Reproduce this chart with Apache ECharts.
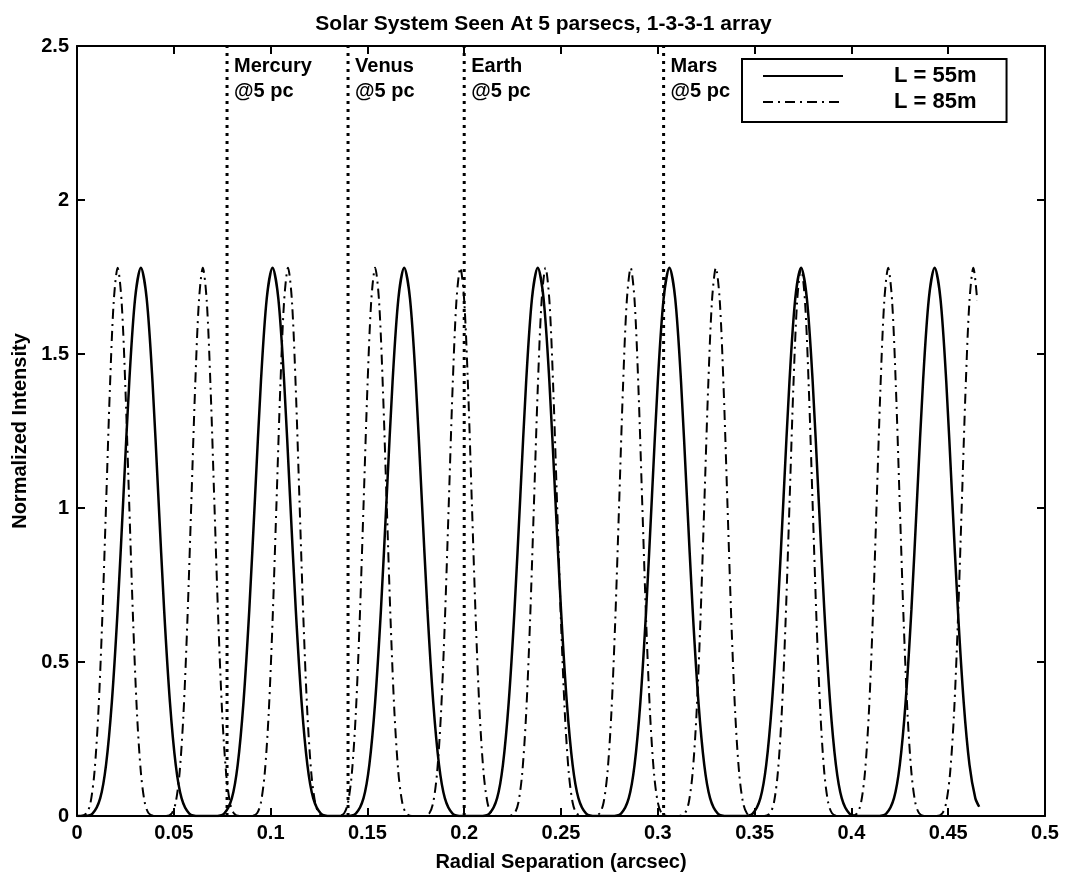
<!DOCTYPE html>
<html><head><meta charset="utf-8">
<script src="https://cdn.jsdelivr.net/npm/echarts@6/dist/echarts.min.js"></script>
<style>html,body{margin:0;padding:0;background:#fff}#c{width:1087px;height:879px}</style>
</head><body><div id="c"></div>
<script>
// ---- text ----
const titleText = 'Solar System Seen At 5 parsecs, 1-3-3-1 array';
const xName = 'Radial Separation (arcsec)';
const yName = 'Normalized Intensity';
const seriesNames = ['L = 55m', 'L = 85m'];

// ---- axis ranges / ticks ----
const xMin = 0, xMax = 0.5, xStep = 0.05;
const yMin = 0, yMax = 2.5, yStep = 0.5;

// ---- planet markers (separation in arcsec seen at 5 pc) ----
const planetNames = ['Mercury', 'Venus', 'Earth', 'Mars'];
const planetSuffix = '@5 pc';
const planetSep = [0.0775, 0.140, 0.200, 0.303];

// ---- L = 55m (solid) [separation, intensity] ----
const l55 = [
  [0,0],[0.003,0],[0.008,0.008],[0.012,0.058],[0.015,0.166],[0.018,0.37],[0.021,0.67],[0.024,1.04],[0.027,1.41],[0.030,1.68],[0.033,1.78],
  [0.036,1.68],[0.039,1.41],[0.042,1.04],[0.045,0.67],[0.048,0.37],[0.051,0.166],[0.054,0.058],[0.058,0.008],[0.063,0],
  [0.071,0],[0.076,0.008],[0.080,0.058],[0.083,0.166],[0.086,0.37],[0.089,0.67],[0.092,1.04],[0.095,1.41],[0.098,1.68],[0.101,1.78],
  [0.104,1.68],[0.107,1.41],[0.110,1.04],[0.113,0.67],[0.116,0.37],[0.119,0.166],[0.122,0.058],[0.126,0.008],[0.131,0],
  [0.139,0],[0.144,0.008],[0.148,0.058],[0.151,0.166],[0.154,0.37],[0.157,0.67],[0.160,1.04],[0.163,1.41],[0.166,1.68],[0.169,1.78],
  [0.172,1.68],[0.175,1.41],[0.178,1.04],[0.181,0.67],[0.184,0.37],[0.187,0.166],[0.190,0.058],[0.194,0.008],[0.199,0],
  [0.208,0],[0.213,0.008],[0.217,0.058],[0.220,0.166],[0.223,0.37],[0.226,0.67],[0.229,1.04],[0.232,1.41],[0.235,1.68],[0.238,1.78],
  [0.241,1.68],[0.244,1.41],[0.247,1.04],[0.250,0.67],[0.253,0.37],[0.256,0.166],[0.259,0.058],[0.263,0.008],[0.268,0],
  [0.276,0],[0.281,0.008],[0.285,0.058],[0.288,0.166],[0.291,0.37],[0.294,0.67],[0.297,1.04],[0.300,1.41],[0.303,1.68],[0.306,1.78],
  [0.309,1.68],[0.312,1.41],[0.315,1.04],[0.318,0.67],[0.321,0.37],[0.324,0.166],[0.327,0.058],[0.331,0.008],[0.336,0],
  [0.344,0],[0.349,0.008],[0.353,0.058],[0.356,0.166],[0.359,0.37],[0.362,0.67],[0.365,1.04],[0.368,1.41],[0.371,1.68],[0.374,1.78],
  [0.377,1.68],[0.380,1.41],[0.383,1.04],[0.386,0.67],[0.389,0.37],[0.392,0.166],[0.395,0.058],[0.399,0.008],[0.404,0],
  [0.413,0],[0.418,0.008],[0.422,0.058],[0.425,0.166],[0.428,0.37],[0.431,0.67],[0.434,1.04],[0.437,1.41],[0.440,1.68],[0.443,1.78],
  [0.446,1.68],[0.449,1.41],[0.452,1.04],[0.455,0.67],[0.458,0.37],[0.461,0.166],[0.464,0.058],[0.466,0.03]
];

// ---- L = 85m (dash-dot) [separation, intensity] ----
const l85 = [
  [0,0],[0.002,0],[0.005,0.009],[0.007,0.044],[0.009,0.141],[0.011,0.332],[0.013,0.631],[0.015,1.008],[0.017,1.389],[0.019,1.674],[0.021,1.78],
  [0.023,1.674],[0.025,1.389],[0.027,1.008],[0.029,0.631],[0.031,0.332],[0.033,0.141],[0.035,0.044],[0.037,0.009],[0.040,0],
  [0.046,0],[0.049,0.009],[0.051,0.044],[0.053,0.141],[0.055,0.332],[0.057,0.631],[0.059,1.008],[0.061,1.389],[0.063,1.674],[0.065,1.78],
  [0.067,1.674],[0.069,1.389],[0.071,1.008],[0.073,0.631],[0.075,0.332],[0.077,0.141],[0.079,0.044],[0.081,0.009],[0.084,0],
  [0.090,0],[0.093,0.009],[0.095,0.044],[0.097,0.141],[0.099,0.332],[0.101,0.631],[0.103,1.008],[0.105,1.389],[0.107,1.674],[0.109,1.78],
  [0.111,1.674],[0.113,1.389],[0.115,1.008],[0.117,0.631],[0.119,0.332],[0.121,0.141],[0.123,0.044],[0.125,0.009],[0.128,0],
  [0.135,0],[0.138,0.009],[0.140,0.044],[0.142,0.141],[0.144,0.332],[0.146,0.631],[0.148,1.008],[0.150,1.389],[0.152,1.674],[0.154,1.78],
  [0.156,1.674],[0.158,1.389],[0.160,1.008],[0.162,0.631],[0.164,0.332],[0.166,0.141],[0.168,0.044],[0.170,0.009],[0.173,0],
  [0.179,0],[0.182,0.009],[0.184,0.044],[0.186,0.141],[0.188,0.332],[0.190,0.631],[0.192,1.008],[0.194,1.389],[0.196,1.674],[0.198,1.78],
  [0.200,1.674],[0.202,1.389],[0.204,1.008],[0.206,0.631],[0.208,0.332],[0.210,0.141],[0.212,0.044],[0.214,0.009],[0.217,0],
  [0.223,0],[0.226,0.009],[0.228,0.044],[0.230,0.141],[0.232,0.332],[0.234,0.631],[0.236,1.008],[0.238,1.389],[0.240,1.674],[0.242,1.78],
  [0.244,1.674],[0.246,1.389],[0.248,1.008],[0.250,0.631],[0.252,0.332],[0.254,0.141],[0.256,0.044],[0.258,0.009],[0.261,0],
  [0.267,0],[0.270,0.009],[0.272,0.044],[0.274,0.141],[0.276,0.332],[0.278,0.631],[0.280,1.008],[0.282,1.389],[0.284,1.674],[0.286,1.78],
  [0.288,1.674],[0.290,1.389],[0.292,1.008],[0.294,0.631],[0.296,0.332],[0.298,0.141],[0.300,0.044],[0.302,0.009],[0.305,0],
  [0.311,0],[0.314,0.009],[0.316,0.044],[0.318,0.141],[0.320,0.332],[0.322,0.631],[0.324,1.008],[0.326,1.389],[0.328,1.674],[0.330,1.78],
  [0.332,1.674],[0.334,1.389],[0.336,1.008],[0.338,0.631],[0.340,0.332],[0.342,0.141],[0.344,0.044],[0.346,0.009],[0.349,0],
  [0.355,0],[0.358,0.009],[0.360,0.044],[0.362,0.141],[0.364,0.332],[0.366,0.631],[0.368,1.008],[0.370,1.389],[0.372,1.674],[0.374,1.78],
  [0.376,1.674],[0.378,1.389],[0.380,1.008],[0.382,0.631],[0.384,0.332],[0.386,0.141],[0.388,0.044],[0.390,0.009],[0.393,0],
  [0.400,0],[0.403,0.009],[0.405,0.044],[0.407,0.141],[0.409,0.332],[0.411,0.631],[0.413,1.008],[0.415,1.389],[0.417,1.674],[0.419,1.78],
  [0.421,1.674],[0.423,1.389],[0.425,1.008],[0.427,0.631],[0.429,0.332],[0.431,0.141],[0.433,0.044],[0.435,0.009],[0.438,0],
  [0.444,0],[0.447,0.009],[0.449,0.044],[0.451,0.141],[0.453,0.332],[0.455,0.631],[0.457,1.008],[0.459,1.389],[0.461,1.674],[0.463,1.78],
  [0.465,1.674]
];

const FONT = '"Liberation Sans", Arial, Helvetica, sans-serif';
const chart = echarts.init(document.getElementById('c'), null, {renderer: 'canvas'});

const axisCommon = {
  axisLine: {show: true, onZero: false, lineStyle: {color: '#000', width: 2}},
  axisTick: {show: true, inside: true, length: 8, lineStyle: {color: '#000', width: 2}},
  splitLine: {show: false}
};

const planetLineSeries = planetSep.map((x, i) => ({
  name: planetNames[i],
  type: 'line',
  data: [[x, yMin], [x, yMax]],
  symbol: 'none',
  silent: true,
  z: 1,
  lineStyle: {color: '#000', width: 3, type: [3, 5], cap: 'butt'}
}));

const planetLabelSeries = {
  name: 'planetLabels',
  type: 'scatter',
  symbolSize: 0,
  itemStyle: {color: '#000', opacity: 1},
  silent: true,
  z: 5,
  data: planetSep.map((x, i) => ({value: [x, yMax], name: planetNames[i]})),
  label: {
    show: true,
    position: [7, 8],
    align: 'left',
    verticalAlign: 'top',
    formatter: p => p.name + '\n' + planetSuffix,
    fontFamily: FONT,
    fontSize: 20,
    fontWeight: 'bold',
    lineHeight: 25,
    color: '#000',
    opacity: 1
  }
};

chart.setOption({
  animation: false,
  backgroundColor: '#fff',
  title: {
    text: titleText,
    left: 'center',
    top: 9,
    textStyle: {fontFamily: FONT, fontSize: 21, fontWeight: 'bold', color: '#000'}
  },
  grid: {left: 77, right: 42, top: 46, bottom: 63, containLabel: false},
  legend: {
    data: seriesNames,
    orient: 'vertical',
    left: 742,
    top: 59,
    padding: [6, 30, 9, 20],
    itemWidth: 80,
    itemHeight: 14,
    itemGap: 4,
    borderColor: '#000',
    borderWidth: 2,
    backgroundColor: '#fff',
    itemStyle: {opacity: 0},
    textStyle: {fontFamily: FONT, fontSize: 22, fontWeight: 'bold', color: '#000', padding: [0, 0, 0, 46]}
  },
  xAxis: [
    Object.assign({
      type: 'value', min: xMin, max: xMax, interval: xStep, position: 'bottom',
      name: xName, nameLocation: 'middle', nameGap: 36,
      nameTextStyle: {fontFamily: FONT, fontSize: 20, fontWeight: 'bold', color: '#000'},
      axisLabel: {fontFamily: FONT, fontSize: 20, fontWeight: 'bold', color: '#000', margin: 7}
    }, axisCommon),
    Object.assign({
      type: 'value', min: xMin, max: xMax, interval: xStep, position: 'top',
      axisLabel: {show: false}
    }, axisCommon)
  ],
  yAxis: [
    Object.assign({
      type: 'value', min: yMin, max: yMax, interval: yStep, position: 'left',
      name: yName, nameLocation: 'middle', nameGap: 46,
      nameTextStyle: {fontFamily: FONT, fontSize: 20, fontWeight: 'bold', color: '#000'},
      axisLabel: {fontFamily: FONT, fontSize: 20, fontWeight: 'bold', color: '#000', margin: 8}
    }, axisCommon),
    Object.assign({
      type: 'value', min: yMin, max: yMax, interval: yStep, position: 'right',
      axisLabel: {show: false}
    }, axisCommon)
  ],
  series: [
    {
      name: seriesNames[0], type: 'line', data: l55, symbol: 'none', smooth: 0.3, z: 3,
      lineStyle: {color: '#000', width: 2.5, type: 'solid'},
      itemStyle: {color: '#000'}
    },
    {
      name: seriesNames[1], type: 'line', data: l85, symbol: 'none', smooth: 0.3, z: 2,
      lineStyle: {color: '#000', width: 2, type: [10, 5, 2, 5]},
      itemStyle: {color: '#000'}
    }
  ].concat(planetLineSeries, [planetLabelSeries])
});
</script>
</body></html>
